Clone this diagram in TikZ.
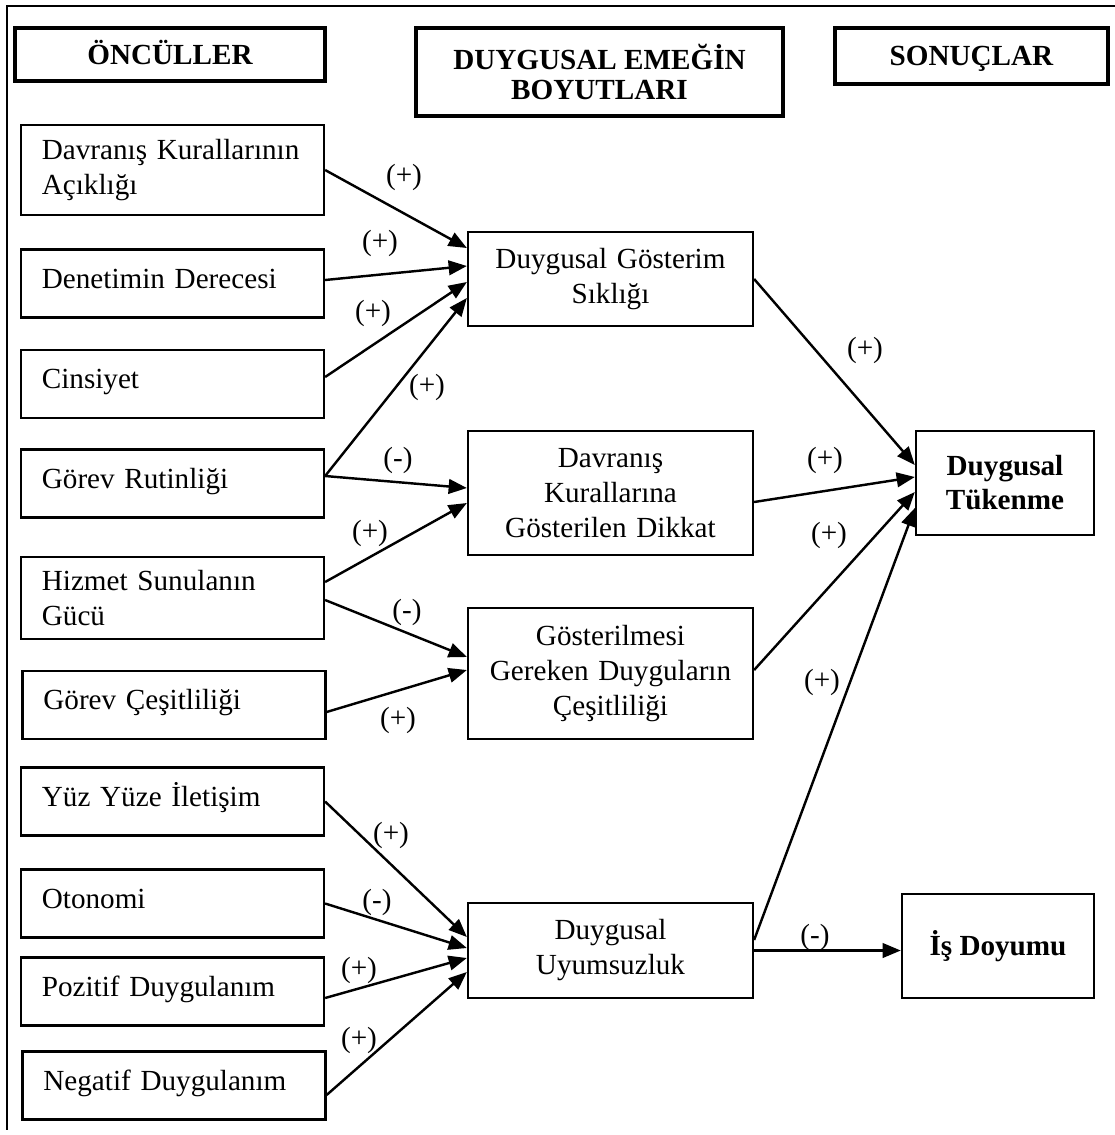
\documentclass[tikz,border=0pt]{standalone}
\usepackage{fontspec}
\setmainfont{Liberation Serif}
\usepackage{tikz}
\usetikzlibrary{arrows.meta,calc}

\begin{document}
\begin{tikzpicture}[
    x=0.4115pt, y=-0.4115pt,
    font=\fontsize{12}{14.4}\selectfont,
    header/.style={
        rectangle,
        draw=black,
        line width=1.5pt,
        align=center,
        inner sep=0pt,
        font=\fontsize{12}{12.5}\selectfont\bfseries
    },
    leftbox/.style={
        rectangle,
        draw=black,
        line width=0.9pt,
        minimum height=28pt,
        text width=107.5pt,
        inner xsep=8.6pt,
        align=left
    },
    single/.style={text height=9pt, text depth=5.2pt},
    midbox/.style={
        rectangle,
        draw=black,
        line width=0.9pt,
        minimum width=117.3pt,
        text width=108pt,
        align=center
    },
    outbox/.style={
        rectangle,
        draw=black,
        line width=1pt,
        minimum height=42.8pt,
        align=center,
        font=\fontsize{12}{14}\selectfont\bfseries
    },
    sign/.style={inner sep=0pt},
    frame/.style={line width=1.2pt},
    arrow/.style={
        -{Triangle[length=7.5pt,width=6pt]},
        line width=1pt,
        draw=black
    }
]
\useasboundingbox (0,0) rectangle (1115,1135);
\draw[frame] (1115,6) -- (7,6) -- (7,1130);

% Headers
\node[header, minimum width=127.6pt, minimum height=21.8pt, text height=8pt, text depth=0pt] (oncul) at (170,54.5) {ÖNCÜLLER};
\node[header, minimum width=151pt, minimum height=36.2pt] (boyut) at (599.5,72) {DUYGUSAL EMEĞİN\\BOYUTLARI};
\node[header, minimum width=112.3pt, minimum height=23pt, text height=8pt, text depth=0pt] (sonuc) at (971.5,56) {SONUÇLAR};

% Left column: antecedents
\node[leftbox, minimum height=37pt] (acik) at (172.5,170) {Davranış Kurallarının\\Açıklığı};
\node[leftbox, single] (denet) at (172.5,283.5) {Denetimin Derecesi};
\node[leftbox, single] (cins) at (172.5,384) {Cinsiyet};
\node[leftbox, single] (rutin) at (172.5,483.5) {Görev Rutinliği};
\node[leftbox, minimum height=33.7pt] (hizmet) at (172.5,598) {Hizmet Sunulanın\\Gücü};
\node[leftbox, single] (cesit) at (174,705) {Görev Çeşitliliği};
\node[leftbox, single] (yuz) at (172.5,801.5) {Yüz Yüze İletişim};
\node[leftbox, single] (oton) at (172.5,903.5) {Otonomi};
\node[leftbox, single] (pozit) at (172.5,991.5) {Pozitif Duygulanım};
\node[leftbox, single] (negat) at (174,1085.5) {Negatif Duygulanım};

% Middle column: dimensions
\node[midbox, minimum height=38.7pt] (siklik) at (610.5,279) {Duygusal Gösterim\\Sıklığı};
\node[midbox, minimum height=51pt] (dikkat) at (610.5,493) {Davranış\\Kurallarına\\Gösterilen Dikkat};
\node[midbox, minimum height=53.9pt] (cesitlilik) at (610.5,673.5) {Gösterilmesi\\Gereken Duyguların\\Çeşitliliği};
\node[midbox, minimum height=39pt] (uyum) at (610.5,950.5) {Duygusal\\Uyumsuzluk};

% Right column: outcomes
\node[outbox, minimum width=73.2pt] (tukenme) at (1005,483) {Duygusal\\Tükenme};
\node[outbox, minimum width=79pt] (doyum) at (998,946) {İş Doyumu};

% Connections into the dimensions
\draw[arrow] (acik.east) -- ($(siklik.west)+(0,-31)$);
\draw[arrow] ($(denet.east)+(0,-3.5)$) -- ($(siklik.west)+(0,-13)$);
\draw[arrow] ($(cins.east)+(0,-7)$) -- ($(siklik.west)+(0,3)$);
\draw[arrow] ($(rutin.east)+(0,-7.5)$) -- ($(siklik.west)+(0,19)$);
\draw[arrow] ($(rutin.east)+(0,-7.5)$) -- ($(dikkat.west)+(0,-5)$);
\draw[arrow] ($(hizmet.east)+(0,-16)$) -- ($(dikkat.west)+(0,10)$);
\draw[arrow] ($(hizmet.east)+(0,2)$) -- ($(cesitlilik.west)+(0,-16.5)$);
\draw[arrow] ($(cesit.east)+(0,7)$) -- ($(cesitlilik.west)+(0,-3.5)$);
\draw[arrow] (yuz.east) -- ($(uyum.west)+(0,-13.5)$);
\draw[arrow] (oton.east) -- ($(uyum.west)+(0,-2.5)$);
\draw[arrow] ($(pozit.east)+(0,6.5)$) -- ($(uyum.west)+(0,7.5)$);
\draw[arrow] ($(negat.east)+(0,9.5)$) -- ($(uyum.west)+(0,21.5)$);

% Connections into the outcomes
\draw[arrow] (siklik.east) -- ($(tukenme.west)+(0,-18)$);
\draw[arrow] ($(dikkat.east)+(0,9)$) -- ($(tukenme.west)+(0,-6)$);
\draw[arrow] ($(cesitlilik.east)+(0,-3.5)$) -- ($(tukenme.west)+(0,9)$);
\draw[arrow] ($(uyum.east)+(0,-10.5)$) -- ($(tukenme.west)+(0,25)$);
\draw[arrow] (uyum.east) -- (uyum.east -| doyum.west);

% Signs
\node[sign] (s1) at (404,177) {(+)};
\node[sign] (s2) at (380,243) {(+)};
\node[sign] (s3) at (373,313) {(+)};
\node[sign] (s4) at (427,387) {(+)};
\node[sign] (s5) at (398,460) {(-)};
\node[sign] (s6) at (370,533) {(+)};
\node[sign] (s7) at (407,612) {(-)};
\node[sign] (s8) at (398,720) {(+)};
\node[sign] (s9) at (391,835) {(+)};
\node[sign] (s10) at (377,902) {(-)};
\node[sign] (s11) at (359,970) {(+)};
\node[sign] (s12) at (359,1040) {(+)};
\node[sign] (s13) at (865,350) {(+)};
\node[sign] (s14) at (825,460) {(+)};
\node[sign] (s15) at (829,535) {(+)};
\node[sign] (s16) at (822,682) {(+)};
\node[sign] (s17) at (815,937) {(-)};

\end{tikzpicture}
\end{document}
